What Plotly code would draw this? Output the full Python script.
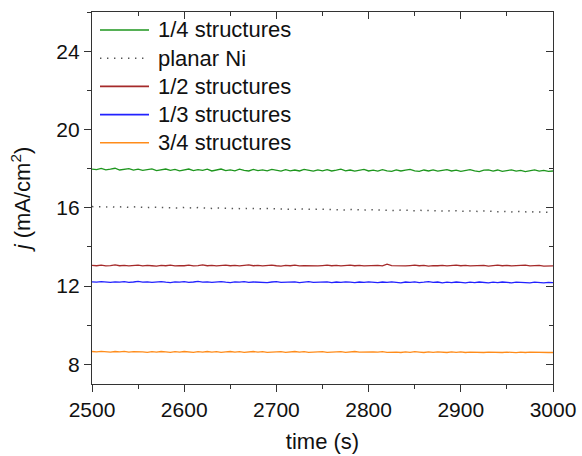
import plotly.graph_objects as go

time_s = [2500 + 5 * i for i in range(101)]

series_names = ["1/4 structures", "planar Ni", "1/2 structures", "1/3 structures", "3/4 structures"]
series_colors = ["#1e961e", "#555555", "#a52a2a", "#2222ff", "#ff8c1a"]

quarter = [
    17.98, 17.95, 18.01, 17.94, 17.97, 18.02, 17.93, 17.96, 18.00, 17.92,
    17.97, 17.91, 17.95, 17.99, 17.90, 17.94, 17.98, 17.91, 17.96, 17.89,
    17.94, 17.98, 17.90, 17.95, 17.91, 17.97, 17.88, 17.93, 17.98, 17.90,
    17.94, 17.89, 17.97, 17.91, 17.88, 17.96, 17.90, 17.94, 17.89, 17.96,
    17.90, 17.87, 17.95, 17.89, 17.93, 17.88, 17.96, 17.90, 17.87, 17.94,
    17.89, 17.95, 17.88, 17.92, 17.97, 17.89, 17.93, 17.87, 17.92, 17.96,
    17.88, 17.92, 17.87, 17.95, 17.89, 17.86, 17.94, 17.88, 17.92, 17.96,
    17.89, 17.86, 17.93, 17.88, 17.94, 17.87, 17.91, 17.95, 17.88, 17.92,
    17.86, 17.91, 17.95, 17.88, 17.85, 17.92, 17.94, 17.87, 17.93, 17.86,
    17.90, 17.94, 17.87, 17.91, 17.85, 17.90, 17.94, 17.87, 17.91, 17.86,
    17.88,
]

planar_ni = [
    16.06, 16.05, 16.07, 16.04, 16.06, 16.03, 16.05, 16.04, 16.02, 16.05,
    16.03, 16.04, 16.01, 16.03, 16.02, 16.04, 16.00, 16.02, 16.01, 15.99,
    16.02, 16.00, 15.98, 16.01, 15.99, 16.00, 15.97, 15.99, 15.98, 16.00,
    15.96, 15.98, 15.97, 15.95, 15.98, 15.96, 15.97, 15.94, 15.96, 15.95,
    15.97, 15.93, 15.95, 15.94, 15.92, 15.95, 15.93, 15.94, 15.91, 15.93,
    15.92, 15.94, 15.90, 15.92, 15.91, 15.89, 15.92, 15.90, 15.91, 15.88,
    15.90, 15.89, 15.91, 15.87, 15.89, 15.88, 15.86, 15.89, 15.87, 15.88,
    15.85, 15.87, 15.86, 15.88, 15.84, 15.86, 15.85, 15.83, 15.86, 15.84,
    15.85, 15.82, 15.84, 15.83, 15.81, 15.84, 15.82, 15.83, 15.80, 15.82,
    15.81, 15.79, 15.82, 15.80, 15.81, 15.78, 15.80, 15.79, 15.77, 15.79,
    15.76,
]

half = [
    13.06, 13.04, 13.07, 13.03, 13.05, 13.08, 13.04, 13.06, 13.03, 13.05,
    13.07, 13.03, 13.06, 13.04, 13.02, 13.06, 13.04, 13.07, 13.03, 13.05,
    13.04, 13.07, 13.03, 13.05, 13.08, 13.04, 13.06, 13.03, 13.05, 13.07,
    13.04, 13.06, 13.03, 13.05, 13.08, 13.04, 13.06, 13.03, 13.05, 13.07,
    13.04, 13.02, 13.06, 13.04, 13.07, 13.03, 13.05, 13.04, 13.06, 13.03,
    13.05, 13.07, 13.04, 13.06, 13.03, 13.05, 13.07, 13.04, 13.06, 13.03,
    13.05, 13.04, 13.06, 13.03, 13.12, 13.05, 13.04, 13.06, 13.03, 13.05,
    13.07, 13.04, 13.06, 13.02, 13.05, 13.04, 13.06, 13.03, 13.05, 13.07,
    13.04, 13.06, 13.03, 13.05, 13.04, 13.06, 13.02, 13.05, 13.07, 13.04,
    13.06, 13.03, 13.05, 13.04, 13.07, 13.03, 13.05, 13.06, 13.02, 13.04,
    13.03,
]

third = [
    12.22, 12.20, 12.23, 12.21, 12.19, 12.22, 12.20, 12.23, 12.19, 12.21,
    12.24, 12.20, 12.22, 12.19, 12.21, 12.23, 12.20, 12.18, 12.22, 12.20,
    12.23, 12.19, 12.21, 12.24, 12.20, 12.22, 12.19, 12.21, 12.23, 12.20,
    12.18, 12.22, 12.20, 12.23, 12.19, 12.21, 12.20, 12.22, 12.18, 12.21,
    12.23, 12.19, 12.21, 12.20, 12.22, 12.18, 12.21, 12.23, 12.19, 12.21,
    12.20, 12.22, 12.18, 12.21, 12.19, 12.22, 12.20, 12.18, 12.21, 12.19,
    12.22, 12.20, 12.18, 12.21, 12.19, 12.22, 12.20, 12.17, 12.21, 12.19,
    12.22, 12.18, 12.20, 12.23, 12.19, 12.21, 12.17, 12.20, 12.18, 12.21,
    12.19, 12.17, 12.20, 12.18, 12.21, 12.19, 12.17, 12.20, 12.18, 12.21,
    12.19, 12.17, 12.20, 12.18, 12.19, 12.17, 12.20, 12.18, 12.16, 12.19,
    12.18,
]

three_quarter = [
    8.66, 8.64, 8.67, 8.65, 8.63, 8.66, 8.64, 8.67, 8.63, 8.65,
    8.66, 8.64, 8.62, 8.65, 8.63, 8.66, 8.64, 8.62, 8.65, 8.63,
    8.66, 8.64, 8.62, 8.65, 8.63, 8.66, 8.63, 8.65, 8.62, 8.64,
    8.66, 8.63, 8.65, 8.62, 8.64, 8.66, 8.63, 8.65, 8.62, 8.64,
    8.63, 8.65, 8.62, 8.64, 8.66, 8.63, 8.65, 8.62, 8.64, 8.63,
    8.65, 8.62, 8.64, 8.63, 8.65, 8.62, 8.64, 8.66, 8.63, 8.64,
    8.62, 8.64, 8.63, 8.65, 8.62, 8.64, 8.63, 8.61, 8.64, 8.62,
    8.65, 8.63, 8.61, 8.64, 8.62, 8.64, 8.63, 8.61, 8.64, 8.62,
    8.64, 8.61, 8.63, 8.62, 8.64, 8.61, 8.63, 8.62, 8.64, 8.61,
    8.63, 8.62, 8.60, 8.63, 8.61, 8.63, 8.62, 8.60, 8.62, 8.61,
    8.61,
]

x_ticks = [2500, 2600, 2700, 2800, 2900, 3000]
y_ticks = [8, 12, 16, 20, 24]
x_range = [2500, 3000]
y_range = [7, 26]

series_values = [quarter, planar_ni, half, third, three_quarter]
series_dash = ["solid", "1.4px,5.6px", "solid", "solid", "solid"]

FONT = "Liberation Sans, Arial, sans-serif"
AX = "#333333"

fig = go.Figure()
for name, vals, col, dash in zip(series_names, series_values, series_colors, series_dash):
    fig.add_trace(go.Scatter(
        x=time_s, y=vals, mode="lines", name=name,
        line=dict(color=col, width=1.3 if dash == "solid" else 1.5, dash=dash),
        showlegend=False,
    ))

# invisible trace on the overlay axes so their inward ticks (top/right) are drawn
fig.add_trace(go.Scatter(x=x_range, y=y_range, xaxis="x2", yaxis="y2", mode="markers",
                         marker=dict(size=1, color="rgba(0,0,0,0)"),
                         hoverinfo="skip", showlegend=False))

# custom legend (sample lines + labels) at the top-left of the plot area
L, R, T, B = 92, 553, 12, 384
W, H = R - L, B - T
row_y = [30, 58.2, 86.4, 114.6, 142.8]
for name, col, dash, py in zip(series_names, series_colors, series_dash, row_y):
    yp = (B - py) / H
    fig.add_shape(type="line", xref="paper", yref="paper",
                  x0=(100 - L) / W, x1=(149 - L) / W, y0=yp, y1=yp,
                  line=dict(color=col, width=1.6 if dash == "solid" else 1.5,
                            dash="solid" if dash == "solid" else "1.4px,5.6px"))
    fig.add_annotation(xref="paper", yref="paper", x=(156 - L) / W, y=yp,
                       text=name, showarrow=False, xanchor="left", yanchor="middle",
                       font=dict(family=FONT, size=22, color="#111111"))

axis_common = dict(linecolor=AX, linewidth=1.4, tickcolor=AX,
                   tickwidth=1.4, showgrid=False, zeroline=False, automargin=False)

fig.update_layout(
    width=582, height=456,
    margin=dict(l=L, r=582 - R, t=T, b=456 - B),
    paper_bgcolor="white", plot_bgcolor="white",
    font=dict(family=FONT, size=21, color="#111111"),
    xaxis=dict(range=x_range, tickvals=x_ticks, ticks="outside", ticklen=7,
               showline=True, mirror=True,
               minor=dict(dtick=50, tick0=2500, ticks="outside", ticklen=4,
                          tickcolor=AX, tickwidth=1.4),
               title=dict(text="time (s)", font=dict(size=22), standoff=13),
               **axis_common),
    yaxis=dict(range=y_range, tickvals=y_ticks, ticks="outside", ticklen=7,
               showline=True, mirror=True,
               minor=dict(dtick=2, tick0=0, ticks="outside", ticklen=4,
                          tickcolor=AX, tickwidth=1.4),
               title=dict(text="<i>j</i> (mA/cm<sup>2</sup>)", font=dict(size=22), standoff=19),
               **axis_common),
    xaxis2=dict(range=x_range, overlaying="x", side="top", anchor="y",
                tickvals=x_ticks, ticks="inside", ticklen=7, showticklabels=False,
                showline=False,
                minor=dict(dtick=50, tick0=2500, ticks="inside", ticklen=4,
                           tickcolor=AX, tickwidth=1.4),
                **axis_common),
    yaxis2=dict(range=y_range, overlaying="y", side="right", anchor="x",
                tickvals=y_ticks, ticks="inside", ticklen=7, showticklabels=False,
                showline=False,
                minor=dict(dtick=2, tick0=0, ticks="inside", ticklen=4,
                           tickcolor=AX, tickwidth=1.4),
                **axis_common),
)

fig.write_html("out.html", config={"displayModeBar": False},
               post_script="document.body.style.margin='0px';")
